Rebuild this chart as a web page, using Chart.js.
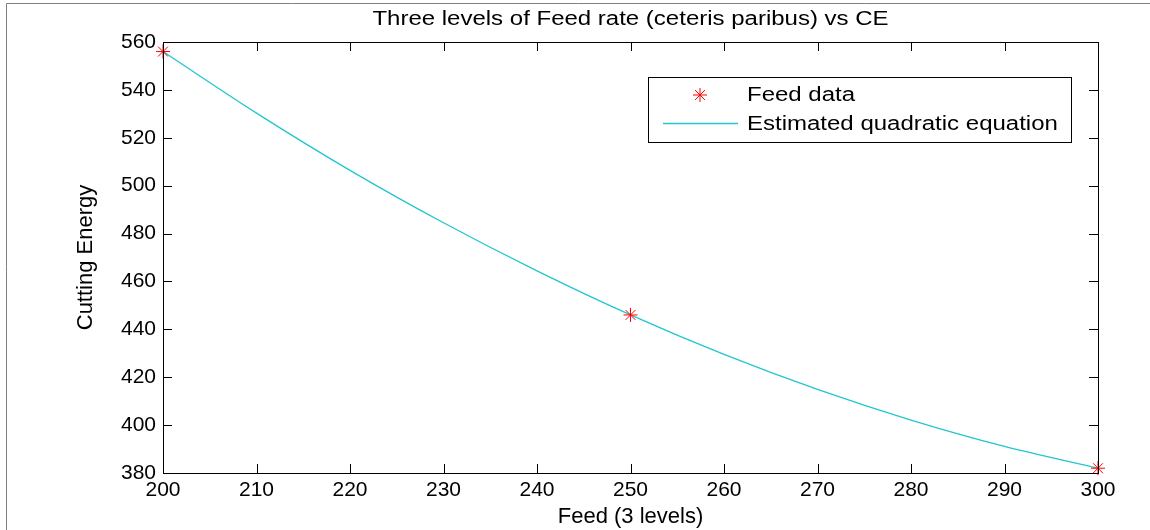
<!DOCTYPE html>
<html lang="en">
<head>
    <meta charset="UTF-8">
    <title>Feed rate vs CE</title>
    <style>
        body { margin: 0; background: #fff; }
    </style>
</head>
<body>

<canvas id="mycanvas" width="1150" height="530"></canvas>

<script src="https://cdn.jsdelivr.net/npm/chart.js"></script>

<script>
    // measured points (3 feed levels)
    const feedLevels = [200, 250, 300];
    const feedCE = [556, 446, 382];

    // fitted curve, every 10 units
    const fitFeed = [200, 210, 220, 230, 240, 250, 260, 270, 280, 290, 300];
    const fitCE = [556, 530.3, 506.4, 484.5, 464.4, 446, 429.5, 414.9, 402.1, 391.1, 382];

    const xMin = 200, xMax = 300, xStep = 10;
    const yMin = 380, yMax = 560, yStep = 20;

    const chartTitle = 'Three levels of Feed rate (ceteris paribus) vs CE';

    const FONT = "'Liberation Sans', Arial, sans-serif";
    const lineColor = '#21c6ce';

    // the original text is a bit wide, so stretch it sideways
    function wideText(ctx, txt, x, y, align) {
        const sx = 1.2;
        ctx.save();
        ctx.textAlign = align;
        ctx.textBaseline = 'middle';
        ctx.translate(x, y);
        ctx.scale(sx, 1);
        ctx.fillText(txt, 0, 0);
        ctx.restore();
    }

    // white page, gray frame, box round the axes, inward ticks, title, legend
    const matlabLook = {
        id: 'matlabLook',
        beforeDraw(chart) {
            const ctx = chart.ctx;
            ctx.save();
            ctx.fillStyle = '#fff';
            ctx.fillRect(0, 0, chart.width, chart.height);
            ctx.strokeStyle = '#808080';
            ctx.lineWidth = 1;
            ctx.beginPath();
            ctx.moveTo(6.5, chart.height);
            ctx.lineTo(6.5, 3.5);
            ctx.lineTo(chart.width, 3.5);
            ctx.stroke();
            ctx.restore();
        },
        afterDraw(chart) {
            const ctx = chart.ctx;
            const a = chart.chartArea;
            const xs = chart.scales.x, ys = chart.scales.y;
            ctx.save();
            ctx.strokeStyle = '#000';
            ctx.lineWidth = 1;
            ctx.beginPath();
            const len = 9;
            xs.ticks.forEach(t => {
                const px = Math.round(xs.getPixelForValue(t.value)) + 0.5;
                ctx.moveTo(px, a.bottom); ctx.lineTo(px, a.bottom - len);
                ctx.moveTo(px, a.top); ctx.lineTo(px, a.top + len);
            });
            ys.ticks.forEach(t => {
                const py = Math.round(ys.getPixelForValue(t.value)) + 0.5;
                ctx.moveTo(a.left, py); ctx.lineTo(a.left + len, py);
                ctx.moveTo(a.right, py); ctx.lineTo(a.right - len, py);
            });
            ctx.stroke();
            ctx.strokeRect(Math.round(a.left) + 0.5, Math.round(a.top) + 0.5,
                Math.round(a.right - a.left), Math.round(a.bottom - a.top));

            ctx.fillStyle = '#000';
            ctx.font = '20px ' + FONT;
            wideText(ctx, chartTitle, (a.left + a.right) / 2, 19, 'center');

            // legend
            const lx = 648.5, ly = 77.5, lw = 423, lh = 65;
            ctx.fillStyle = '#fff';
            ctx.fillRect(lx, ly, lw, lh);
            ctx.strokeRect(lx, ly, lw, lh);

            const ds = chart.data.datasets;
            // star marker
            const sx = 700, sy = 95, r = 7;
            ctx.strokeStyle = 'red';
            ctx.beginPath();
            for (let k = 0; k < 4; k++) {
                const ang = k * Math.PI / 4;
                ctx.moveTo(sx - r * Math.cos(ang), sy - r * Math.sin(ang));
                ctx.lineTo(sx + r * Math.cos(ang), sy + r * Math.sin(ang));
            }
            ctx.stroke();
            // line sample
            ctx.strokeStyle = lineColor;
            ctx.lineWidth = 1.3;
            ctx.beginPath();
            ctx.moveTo(663, 123.5);
            ctx.lineTo(738, 123.5);
            ctx.stroke();

            ctx.fillStyle = '#000';
            ctx.font = '20px ' + FONT;
            wideText(ctx, ds[0].label, 747, 95, 'left');
            wideText(ctx, ds[1].label, 747, 124, 'left');
            ctx.restore();
        }
    };

    const context = document.getElementById("mycanvas").getContext("2d");

    new Chart(context, {
        type: 'line',
        data: {
            datasets: [
                {
                    label: 'Feed data',
                    data: feedLevels.map((f, i) => ({x: f, y: feedCE[i]})),
                    showLine: false,
                    pointStyle: 'star',
                    pointRadius: 7,
                    pointBorderColor: 'red',
                    pointBackgroundColor: 'red',
                    pointBorderWidth: 1,
                    clip: false,
                    order: 0
                },
                {
                    label: 'Estimated quadratic equation',
                    data: fitFeed.map((f, i) => ({x: f, y: fitCE[i]})),
                    borderColor: lineColor,
                    borderWidth: 1.3,
                    pointRadius: 0,
                    cubicInterpolationMode: 'monotone',
                    order: 1
                }
            ]
        },
        options: {
            responsive: false,
            animation: false,
            layout: { padding: { top: 42, right: 52, bottom: 0, left: 0 } },
            plugins: {
                legend: { display: false },
                tooltip: { enabled: false },
                title: { display: false }
            },
            scales: {
                x: {
                    type: 'linear',
                    min: xMin, max: xMax,
                    ticks: { stepSize: xStep, color: '#000', padding: 5,
                        font: { family: FONT, size: 21 }, maxRotation: 0 },
                    grid: { display: false, drawTicks: false },
                    border: { display: false },
                    title: { display: true, text: 'Feed (3 levels)', color: '#000',
                        font: { family: FONT, size: 22 }, padding: { top: 0, bottom: 0 } },
                    afterFit(scale) { scale.height = 57; }
                },
                y: {
                    min: yMin, max: yMax,
                    ticks: { stepSize: yStep, color: '#000', padding: 7,
                        font: { family: FONT, size: 21 } },
                    grid: { display: false, drawTicks: false },
                    border: { display: false },
                    title: { display: true, text: 'Cutting Energy', color: '#000',
                        font: { family: FONT, size: 22 }, padding: { top: 73, bottom: 0 } },
                    afterFit(scale) { scale.width = 163; }
                }
            }
        },
        plugins: [matlabLook]
    });
</script>

</body>
</html>
